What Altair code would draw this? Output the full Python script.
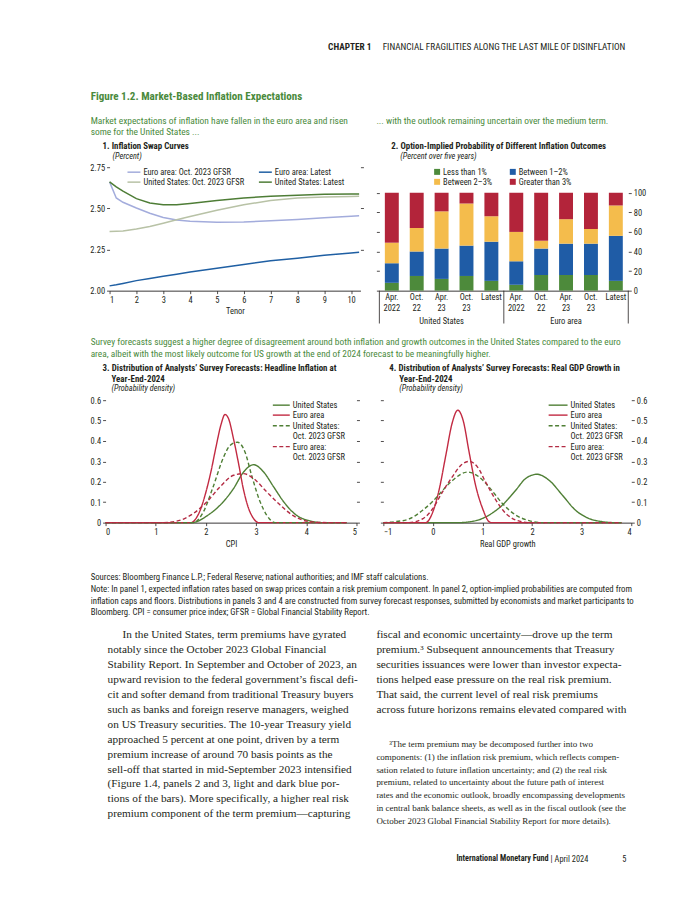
import altair as alt
import pandas as pd

FONT = "Liberation Sans Narrow, Arial Narrow, Roboto Condensed, Roboto, sans-serif"
SERIF = "Liberation Serif, Times New Roman, DejaVu Serif, serif"
GREEN_TXT = "#4a8a3c"
INK = "#231f20"

# ---------------- Panel 1: Inflation swap curves ----------------
p1_series = ["Euro area: Oct. 2023 GFSR", "Euro area: Latest",
             "United States: Oct. 2023 GFSR", "United States: Latest"]
p1_colors = ["#a3acdc", "#1f5fa3", "#b8c2a6", "#4e7d36"]
p1_tenor = [1, 1.25, 1.5, 2, 2.5, 3, 3.5, 4, 5, 6, 7, 8, 9, 10, 10.3]
ea_oct = [2.661, 2.563, 2.537, 2.502, 2.470, 2.445, 2.429, 2.421, 2.415, 2.417, 2.425, 2.433, 2.443, 2.452, 2.455]
ea_latest = [2.029, 2.036, 2.044, 2.061, 2.074, 2.087, 2.100, 2.114, 2.136, 2.159, 2.181, 2.197, 2.215, 2.229, 2.234]
us_oct = [2.360, 2.361, 2.362, 2.374, 2.390, 2.410, 2.431, 2.451, 2.488, 2.522, 2.547, 2.563, 2.569, 2.572, 2.573]
us_latest = [2.661, 2.630, 2.604, 2.559, 2.533, 2.522, 2.522, 2.530, 2.547, 2.563, 2.573, 2.579, 2.585, 2.587, 2.587]

# ---------------- Panel 2: option-implied probabilities ----------------
p2_cats = ["US|Apr.|2022", "US|Oct.|22", "US|Apr.|23", "US|Oct.|23", "US|Latest",
           "EA|Apr.|2022", "EA|Oct.|22", "EA|Apr.|23", "EA|Oct.|23", "EA|Latest"]
p2_groups = ["United States", "Euro area"]
p2_series = ["Less than 1%", "Between 1–2%", "Between 2–3%", "Greater than 3%"]
p2_colors = ["#4d8a3b", "#1f5ca6", "#f4bc4c", "#b3243a"]
less1 = [8, 15, 12, 15, 10, 6, 16, 16, 16, 10]
b12 = [20, 25, 31, 31, 40, 24, 27, 32, 32, 46]
b23 = [21, 24, 38, 43, 26, 30, 8, 25, 15, 31]
gt3 = [51, 36, 19, 11, 24, 40, 49, 27, 37, 13]

# ---------------- Panels 3 & 4: survey forecast distributions ----------------
d_series = ["United States", "Euro area", "United States: Oct. 2023 GFSR", "Euro area: Oct. 2023 GFSR"]
d_colors = ["#4f7f35", "#c22a42", "#4f7f35", "#b32c44"]
d_dash = [[1, 0], [1, 0], [4, 2.5], [4, 2.5]]

cpi_us_x = [0, 1.7, 1.85, 2.0, 2.3, 2.55, 2.75, 2.95, 3.15, 3.35, 3.55, 3.8, 4.05, 4.35, 4.8]
cpi_us_y = [0, 0, 0.008, 0.03, 0.09, 0.167, 0.248, 0.284, 0.248, 0.175, 0.102, 0.037, 0.01, 0, 0]
cpi_ea_x = [0, 1.7, 1.8, 1.9, 2.0, 2.1, 2.2, 2.3, 2.38, 2.45, 2.55, 2.65, 2.75, 2.85, 2.95, 3.05, 4.8]
cpi_ea_y = [0, 0, 0.02, 0.07, 0.15, 0.25, 0.37, 0.48, 0.53, 0.51, 0.41, 0.29, 0.16, 0.07, 0.02, 0, 0]
cpi_usg_x = [0, 1.75, 1.95, 2.15, 2.35, 2.48, 2.63, 2.78, 2.91, 3.08, 3.21, 3.38, 4.8]
cpi_usg_y = [0, 0, 0.053, 0.18, 0.32, 0.378, 0.394, 0.345, 0.232, 0.102, 0.037, 0, 0]
cpi_eag_x = [0, 1.15, 1.5, 1.75, 2.02, 2.28, 2.55, 2.75, 2.95, 3.21, 3.48, 3.74, 4.07, 4.45, 4.8]
cpi_eag_y = [0, 0, 0.013, 0.045, 0.102, 0.175, 0.232, 0.24, 0.216, 0.151, 0.086, 0.034, 0.005, 0, 0]

gdp_us_x = [-1, 0.5, 0.87, 1.13, 1.4, 1.67, 1.87, 2.1, 2.34, 2.61, 2.87, 3.14, 3.41, 3.68, 3.8]
gdp_us_y = [0, 0, 0.01, 0.037, 0.086, 0.159, 0.216, 0.237, 0.208, 0.135, 0.062, 0.021, 0.005, 0, 0]
gdp_ea_x = [-1, -0.15, 0, 0.13, 0.26, 0.39, 0.5, 0.61, 0.73, 0.86, 1.0, 1.13, 1.18, 3.8]
gdp_ea_y = [0, 0, 0.054, 0.167, 0.33, 0.49, 0.551, 0.5, 0.345, 0.183, 0.07, 0.005, 0, 0]
gdp_usg_x = [-1, -0.75, -0.48, -0.2, 0, 0.2, 0.4, 0.7, 0.93, 1.13, 1.4, 1.67, 1.94, 2.2, 3.8]
gdp_usg_y = [0, 0.005, 0.018, 0.062, 0.105, 0.159, 0.208, 0.248, 0.224, 0.175, 0.094, 0.037, 0.01, 0, 0]
gdp_eag_x = [-1, -0.5, -0.2, 0, 0.19, 0.39, 0.56, 0.73, 0.9, 1.06, 1.27, 1.47, 1.67, 1.95, 3.8]
gdp_eag_y = [0, 0, 0.02, 0.07, 0.15, 0.224, 0.28, 0.30, 0.272, 0.2, 0.11, 0.045, 0.013, 0, 0]

# ---------------- Texts ----------------
header_chapter = "CHAPTER 1"
header_title = "FINANCIAL FRAGILITIES ALONG THE LAST MILE OF DISINFLATION"
fig_title = "Figure 1.2. Market-Based Inflation Expectations"
sub_left = ["Market expectations of inflation have fallen in the euro area and risen",
            "some for the United States ..."]
sub_right = "... with the outlook remaining uncertain over the medium term."
p1_title = "1. Inflation Swap Curves"
p1_unit = "(Percent)"
p2_title = "2. Option-Implied Probability of Different Inflation Outcomes"
p2_unit = "(Percent over five years)"
mid_text = ["Survey forecasts suggest a higher degree of disagreement around both inflation and growth outcomes in the United States compared to the euro",
            "area, albeit with the most likely outcome for US growth at the end of 2024 forecast to be meaningfully higher."]
p3_title = ["3. Distribution of Analysts’ Survey Forecasts: Headline Inflation at", "Year-End-2024"]
p4_title = ["4. Distribution of Analysts’ Survey Forecasts: Real GDP Growth in", "Year-End-2024"]
p34_unit = "(Probability density)"
notes = [
    "Sources: Bloomberg Finance L.P.; Federal Reserve; national authorities; and IMF staff calculations.",
    "Note: In panel 1, expected inflation rates based on swap prices contain a risk premium component. In panel 2, option-implied probabilities are computed from",
    "inflation caps and floors. Distributions in panels 3 and 4 are constructed from survey forecast responses, submitted by economists and market participants to",
    "Bloomberg. CPI = consumer price index; GFSR = Global Financial Stability Report.",
]
body_left = [
    "In the United States, term premiums have gyrated",
    "notably since the October 2023 Global Financial",
    "Stability Report. In September and October of 2023, an",
    "upward revision to the federal government’s fiscal defi-",
    "cit and softer demand from traditional Treasury buyers",
    "such as banks and foreign reserve managers, weighed",
    "on US Treasury securities. The 10-year Treasury yield",
    "approached 5 percent at one point, driven by a term",
    "premium increase of around 70 basis points as the",
    "sell-off that started in mid-September 2023 intensified",
    "(Figure 1.4, panels 2 and 3, light and dark blue por-",
    "tions of the bars). More specifically, a higher real risk",
    "premium component of the term premium—capturing",
]
body_right = [
    "fiscal and economic uncertainty—drove up the term",
    "premium.³ Subsequent announcements that Treasury",
    "securities issuances were lower than investor expecta-",
    "tions helped ease pressure on the real risk premium.",
    "That said, the current level of real risk premiums",
    "across future horizons remains elevated compared with",
]
footnote = [
    "³The term premium may be decomposed further into two",
    "components: (1) the inflation risk premium, which reflects compen-",
    "sation related to future inflation uncertainty; and (2) the real risk",
    "premium, related to uncertainty about the future path of interest",
    "rates and the economic outlook, broadly encompassing developments",
    "in central bank balance sheets, as well as in the fiscal outlook (see the",
    "October 2023 Global Financial Stability Report for more details).",
]
footer_org = "International Monetary Fund"
footer_date = "| April 2024"
footer_page = "5"

DUMMY = alt.Data(values=[{}])


def txt(rows, size, weight="normal", style="normal", color=INK, font=FONT, align="left"):
    data = alt.Data(values=[{"t": t, "x": x, "y": y} for t, x, y in rows])
    return alt.Chart(data).mark_text(
        align=align, baseline="middle", fontSize=size, fontWeight=weight,
        fontStyle=style, color=color, font=font
    ).encode(
        x=alt.X("x:Q", scale=None, axis=None),
        y=alt.Y("y:Q", scale=None, axis=None),
        text="t:N",
    )


def spacer(w, h):
    return alt.Chart(DUMMY).mark_point(opacity=0).encode(
        x=alt.value(0), y=alt.value(0)).properties(width=w, height=h)


def leg_line(x0, x1, y, color, dash=None, width=1.5):
    kw = dict(color=color, strokeWidth=width)
    if dash:
        kw["strokeDash"] = dash
    return alt.Chart(DUMMY).mark_rule(**kw).encode(
        x=alt.value(x0), x2=alt.value(x1), y=alt.value(y))


def leg_text(x, y, label, size=8.5):
    return alt.Chart(DUMMY).mark_text(
        align="left", baseline="middle", fontSize=size, font=FONT, color=INK
    ).encode(x=alt.value(x), y=alt.value(y), text=alt.value(label))


# ---------------- Build panel 1 ----------------
rows = []
for s, vals in zip(p1_series, [ea_oct, ea_latest, us_oct, us_latest]):
    for t, v in zip(p1_tenor, vals):
        rows.append({"s1": s, "tenor": t, "value": v})
df1 = pd.DataFrame(rows)

P1W, P1H = 252, 124
x1 = alt.X("tenor:Q", scale=alt.Scale(domain=[1, 10.35], nice=False, zero=False),
           axis=alt.Axis(values=list(range(1, 11)), title="Tenor", tickSize=3,
                         labelPadding=2, titlePadding=2))
lines1 = alt.Chart(df1).mark_line(strokeWidth=1.5).encode(
    x=x1,
    y=alt.Y("value:Q", scale=alt.Scale(domain=[2.0, 2.75], nice=False, zero=False),
            axis=alt.Axis(values=[2.0, 2.25, 2.5, 2.75], format=".2f", title=None,
                          domain=False, tickSize=3, labelPadding=2)),
    color=alt.Color("s1:N", scale=alt.Scale(domain=p1_series, range=p1_colors), legend=None),
    detail="s1:N",
)
right1 = alt.Chart(df1).mark_line(opacity=0).encode(
    x=x1,
    y=alt.Y("value:Q", scale=alt.Scale(domain=[2.0, 2.75], nice=False, zero=False),
            axis=alt.Axis(orient="right", values=[2.25, 2.5, 2.75], labels=False,
                          domain=False, tickSize=3, title=None)),
    detail="s1:N",
)
leg1 = []
for i, (s, c) in enumerate(zip(p1_series, p1_colors)):
    col, row = i % 2, i // 2
    sx = 18 if col == 0 else 150
    yy = 5 + 10 * row
    leg1.append(leg_line(sx, sx + 13, yy, c))
    leg1.append(leg_text(sx + 16, yy, s))
panel1 = alt.layer(lines1, right1, *leg1).resolve_scale(y="independent").properties(width=P1W, height=P1H)

# ---------------- Build panel 2 ----------------
rows = []
for i, c in enumerate(p2_cats):
    for j, (s, vals) in enumerate(zip(p2_series, [less1, b12, b23, gt3])):
        rows.append({"cat": c, "s2": s, "order": j, "val": vals[i]})
df2 = pd.DataFrame(rows)

P2W, P2H = 250, 124
x2 = alt.X("cat:N", sort=p2_cats,
           scale=alt.Scale(paddingInner=0.44, paddingOuter=0.22),
           axis=alt.Axis(title=None, labelAngle=0, ticks=False, labelPadding=2,
                         labelExpr="slice(split(datum.label, '|'), 1)",
                         labelLineHeight=11))
ydom2 = alt.Scale(domain=[0, 126.1], nice=False)
bars2 = alt.Chart(df2).mark_bar().encode(
    x=x2,
    y=alt.Y("val:Q", stack="zero", scale=ydom2,
            axis=alt.Axis(values=[0, 20, 40, 60, 80, 100], labels=False, tickSize=3,
                          domain=False, title=None)),
    color=alt.Color("s2:N", scale=alt.Scale(domain=p2_series, range=p2_colors), legend=None),
    order=alt.Order("order:Q", sort="ascending"),
)
right2 = alt.Chart(df2).mark_bar(opacity=0).encode(
    x=x2,
    y=alt.Y("val:Q", stack="zero", scale=ydom2,
            axis=alt.Axis(orient="right", values=[0, 20, 40, 60, 80, 100], tickSize=3,
                          domain=False, title=None, labelPadding=2)),
    order=alt.Order("order:Q", sort="ascending"),
)
grp_df = pd.DataFrame({"cat": [p2_cats[2], p2_cats[7]], "g": p2_groups})
grp2 = alt.Chart(grp_df).mark_text(fontSize=8.5, font=FONT, color=INK, baseline="middle").encode(
    x=x2, y=alt.value(P2H + 30), text="g:N")
seps2 = [alt.Chart(DUMMY).mark_rule(color=INK, strokeWidth=0.8).encode(
    x=alt.value(xx), y=alt.value(P2H), y2=alt.value(P2H + 33)) for xx in [0, P2W / 2, P2W]]
leg2 = []
for i, (s, c) in enumerate(zip(p2_series, p2_colors)):
    col, row = i % 2, i // 2
    sx = 58 if col == 0 else 134
    yy = 4.7 + 10 * row
    leg2.append(alt.Chart(DUMMY).mark_square(size=36, color=c, opacity=1).encode(
        x=alt.value(sx), y=alt.value(yy)))
    leg2.append(leg_text(sx + 6, yy, s))
panel2 = alt.layer(bars2, right2, grp2, *seps2, *leg2).resolve_scale(y="independent").properties(width=P2W, height=P2H)


# ---------------- Build panels 3 & 4 ----------------
def dist_df(pairs):
    rows = []
    for s, (xs, ys) in zip(d_series, pairs):
        for xv, yv in zip(xs, ys):
            rows.append({"s3": s, "x": xv, "y": yv})
    return pd.DataFrame(rows)


df3 = dist_df([(cpi_us_x, cpi_us_y), (cpi_ea_x, cpi_ea_y), (cpi_usg_x, cpi_usg_y), (cpi_eag_x, cpi_eag_y)])
df4 = dist_df([(gdp_us_x, gdp_us_y), (gdp_ea_x, gdp_ea_y), (gdp_usg_x, gdp_usg_y), (gdp_eag_x, gdp_eag_y)])

P34H = 123
ylab = "datum.value == 0 ? '0' : format(datum.value, '.1f')"


def dist_panel(df, xdom, xvals, xtitle, width, left_labels, sym_x0, sym_x1):
    xx = alt.X("x:Q", scale=alt.Scale(domain=xdom, nice=False, zero=False),
               axis=alt.Axis(values=xvals, title=xtitle, tickSize=3, labelPadding=2,
                             titlePadding=3, format="d"))
    ys = alt.Scale(domain=[0, 0.6], nice=False)
    yvals = [0, 0.1, 0.2, 0.3, 0.4, 0.5, 0.6]
    lines = alt.Chart(df).mark_line(strokeWidth=1.4, interpolate="monotone").encode(
        x=xx,
        y=alt.Y("y:Q", scale=ys,
                axis=alt.Axis(values=yvals, labels=left_labels, labelExpr=ylab, tickSize=3,
                              domain=False, title=None, labelPadding=2)),
        color=alt.Color("s3:N", scale=alt.Scale(domain=d_series, range=d_colors), legend=None),
        strokeDash=alt.StrokeDash("s3:N", scale=alt.Scale(domain=d_series, range=d_dash), legend=None),
        detail="s3:N",
    )
    right = alt.Chart(df).mark_line(opacity=0).encode(
        x=xx,
        y=alt.Y("y:Q", scale=ys,
                axis=alt.Axis(orient="right", values=yvals, labels=not left_labels,
                              labelExpr=ylab, tickSize=3, domain=False, title=None,
                              labelPadding=2)),
        detail="s3:N",
    )
    leg = []
    entries = [(d_series[0], ["United States"], 5),
               (d_series[1], ["Euro area"], 15),
               (d_series[2], ["United States:", "Oct. 2023 GFSR"], 25.7),
               (d_series[3], ["Euro area:", "Oct. 2023 GFSR"], 46.7)]
    for i, (s, labs, yy) in enumerate(entries):
        leg.append(leg_line(sym_x0, sym_x1, yy, d_colors[i],
                            dash=d_dash[i] if i >= 2 else None, width=1.4))
        for k, lab in enumerate(labs):
            leg.append(leg_text(188, yy + 10.5 * k, lab))
    return alt.layer(lines, right, *leg).resolve_scale(y="independent").properties(width=width, height=P34H)


panel3 = dist_panel(df3, [0, 5], [0, 1, 2, 3, 4, 5], "CPI", 252, True, 168, 185)
panel4 = dist_panel(df4, [-1, 4], [-1, 0, 1, 2, 3, 4], "Real GDP growth", 249, False, 166, 185)

# ---------------- Text rows ----------------
W = 684
t0 = alt.layer(
    txt([(header_title, 617, 37)], 9.3, align="right"),
    txt([(header_chapter, 362, 37)], 9.3, weight="bold", align="right"),
    txt([(fig_title, 80, 88)], 11.1, weight="bold", color=GREEN_TXT),
    txt([(sub_left[0], 80, 112), (sub_left[1], 80, 123), (sub_right, 367, 112)], 9.5, color=GREEN_TXT),
    txt([(p1_title, 92, 137), (p2_title, 382, 137)], 8.9, weight="bold"),
    txt([(p1_unit, 102, 148), (p2_unit, 391, 148)], 8.3, style="italic"),
).properties(width=W, height=158)

t1 = alt.layer(
    txt([(mid_text[0], 80, 52), (mid_text[1], 80, 64)], 9.4, color=GREEN_TXT),
    txt([(p3_title[0], 92, 78), (p3_title[1], 101, 89),
         (p4_title[0], 380, 78), (p4_title[1], 390, 89)], 8.9, weight="bold"),
    txt([(p34_unit, 101, 99), (p34_unit, 390, 99)], 8.3, style="italic"),
).properties(width=W, height=110)

body_rows = [(l, 112 if i == 0 else 97, 113 + 15 * i) for i, l in enumerate(body_left)]
body_rows += [(l, 367, 113 + 15 * i) for i, l in enumerate(body_right)]
foot_rows = [(l, 380 if i == 0 else 367, 222 + 13 * i) for i, l in enumerate(footnote)]
t2 = alt.layer(
    txt([(n, 80, 55 + 11.7 * i) for i, n in enumerate(notes)], 8.8),
    txt(body_rows[:len(body_left)], 11.3, font=SERIF),
    txt(body_rows[len(body_left):], 11.4, font=SERIF),
    txt(foot_rows, 9.0, font=SERIF),
    txt([(footer_org, 540, 338)], 8.2, weight="bold", align="right"),
    txt([(footer_date, 542, 338), (footer_page, 614, 338)], 8.4),
).properties(width=W, height=350)

row1 = alt.hconcat(spacer(99, P1H), panel1, spacer(19, P1H), panel2,
                   spacing=0, bounds="flush").resolve_scale(color="independent")
row3 = alt.hconcat(spacer(95, P34H), panel3, spacer(27, P34H), panel4,
                   spacing=0, bounds="flush").resolve_scale(color="independent", strokeDash="independent")

# nested concat rows take no height under flush bounds; a thin spacer carries each row's height
chart = alt.vconcat(t0, row1, spacer(1, P1H), t1, row3, spacer(1, P34H), t2,
                    spacing=0, bounds="flush").resolve_scale(
    color="independent", strokeDash="independent"
).properties(padding=0, background="white").configure_view(strokeWidth=0).configure_axis(
    labelFont=FONT, titleFont=FONT, labelFontSize=8.5, titleFontSize=8.5,
    labelColor=INK, titleColor=INK, tickColor=INK, domainColor=INK, grid=False,
    titleFontWeight="normal", tickWidth=0.8, domainWidth=0.9,
)

chart.save("out.html", embed_options={"renderer": "svg", "actions": False})
